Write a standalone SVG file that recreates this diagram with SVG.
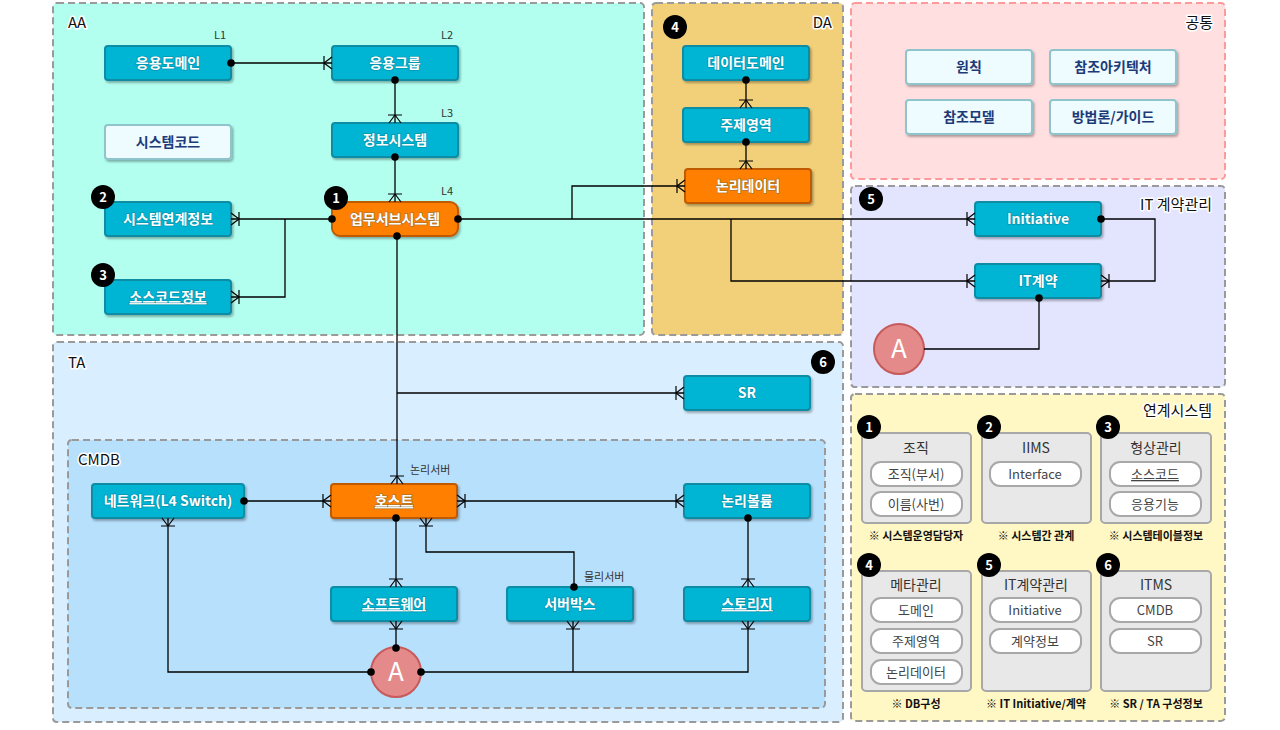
<svg xmlns="http://www.w3.org/2000/svg" width="1280" height="730" viewBox="0 0 1280 730">
<defs>
<style>
text{font-family:"Noto Sans CJK KR","Noto Sans",sans-serif}
.ctr{stroke:#9a9a9a;stroke-width:2;stroke-dasharray:7 4}
.ctitle{font-size:15px;fill:#111;stroke:#fff;stroke-width:3;paint-order:stroke;stroke-linejoin:round}
.node{fill:#00b4d4;stroke:#0a8ca3;stroke-width:2}
.onode{fill:#ff7f00;stroke:#c05a05;stroke-width:2}
.lnode{fill:#eefbff;stroke:#8fc4cc;stroke-width:2}
.nt{font-size:14px;font-weight:bold;fill:#fff;text-anchor:middle;stroke:#0a6070;stroke-width:1.5;paint-order:stroke;stroke-opacity:0.35}
.lt{font-size:14px;font-weight:bold;fill:#1c3a78;text-anchor:middle}
.lvl{font-size:11px;fill:#333}
.badge{fill:#000}
.bt{font-size:13px;font-weight:bold;fill:#fff;text-anchor:middle}
.conn{fill:none;stroke:#000;stroke-width:1.3}
.acirc{fill:#e58a8a;stroke:#c75a5a;stroke-width:2}
.at{font-size:26px;fill:#fff;text-anchor:middle}
.gbox{fill:#e8e8e8;stroke:#a8a8a8;stroke-width:2}
.pill{fill:#fff;stroke:#a8a8a8;stroke-width:2}
.gt{font-size:14px;fill:#333;text-anchor:middle}
.pt{font-size:13px;fill:#444;text-anchor:middle}
.cap{font-size:11px;fill:#111;text-anchor:middle;font-weight:bold}
</style>
<filter id="sh" x="-10%" y="-20%" width="125%" height="150%">
<feDropShadow dx="1.5" dy="2" stdDeviation="1.2" flood-color="#000" flood-opacity="0.3"/>
</filter>
<marker id="crow" viewBox="-10 -8 12 16" refX="0" refY="0" markerWidth="12" markerHeight="16" markerUnits="userSpaceOnUse" orient="auto">
<path d="M-8,-7 V7 M-8,0 L0,-6 M-8,0 L0,6" fill="none" stroke="#000" stroke-width="1.2"/>
</marker>
<marker id="crowS" viewBox="-2 -8 12 16" refX="0" refY="0" markerWidth="12" markerHeight="16" markerUnits="userSpaceOnUse" orient="auto">
<path d="M8,-7 V7 M8,0 L0,-6 M8,0 L0,6" fill="none" stroke="#000" stroke-width="1.2"/>
</marker>
<marker id="dot" viewBox="-5 -5 10 10" refX="0" refY="0" markerWidth="10" markerHeight="10" markerUnits="userSpaceOnUse">
<circle r="3.8" fill="#000"/>
</marker>
</defs>

<rect width="1280" height="730" fill="#fff"/>

<g id="containers">
<rect id="AA" class="ctr" x="53" y="3" width="591" height="332" rx="4" fill="#b2fff0"/>
<rect id="DA" class="ctr" x="652" y="3" width="191" height="332" rx="4" fill="#f2d07a"/>
<rect id="common" x="851" y="3" width="374" height="176" rx="4" fill="#ffdfe0" stroke="#ff9a9a" stroke-width="2" stroke-dasharray="7 4"/>
<rect id="ITc" class="ctr" x="851" y="186" width="374" height="201" rx="4" fill="#e3e5ff"/>
<rect id="TA" class="ctr" x="53" y="342" width="790" height="380" rx="4" fill="#d9efff"/>
<rect id="CMDB" class="ctr" x="68" y="440" width="757" height="268" rx="4" fill="#b7e0fc"/>
<rect id="LINK" class="ctr" x="851" y="394" width="374" height="327" rx="4" fill="#fff8c4"/>
<text class="ctitle" x="68" y="28">AA</text>
<text class="ctitle" x="832" y="28" text-anchor="end">DA</text>
<text class="ctitle" x="1213" y="28" text-anchor="end">공통</text>
<text class="ctitle" x="1212" y="210" text-anchor="end">IT 계약관리</text>
<text class="ctitle" x="68" y="368">TA</text>
<text class="ctitle" x="78" y="465">CMDB</text>
<text class="ctitle" x="1212" y="416" text-anchor="end">연계시스템</text>
</g>

<g id="n-appdomain"><rect class="node" x="105" y="46" width="126" height="34" rx="3" filter="url(#sh)"/><text class="nt" x="168" y="68">응용도메인</text><text class="lvl" x="214" y="39">L1</text></g>
<g id="n-appgroup"><rect class="node" x="332" y="46" width="126" height="34" rx="3" filter="url(#sh)"/><text class="nt" x="395" y="68">응용그룹</text><text class="lvl" x="441" y="39">L2</text></g>
<g id="n-syscode"><rect class="lnode" x="105" y="125" width="126" height="34" rx="3" filter="url(#sh)"/><text class="lt" x="168" y="147">시스템코드</text></g>
<g id="n-infosys"><rect class="node" x="332" y="123" width="126" height="34" rx="3" filter="url(#sh)"/><text class="nt" x="395" y="145">정보시스템</text><text class="lvl" x="441" y="117">L3</text></g>
<g id="n-syslink"><rect class="node" x="105" y="202" width="126" height="34" rx="3" filter="url(#sh)"/><text class="nt" x="168" y="224">시스템연계정보</text><circle class="badge" cx="103" cy="197" r="12"/><text class="bt" x="103" y="202">2</text></g>
<g id="n-bizsub"><rect class="onode" x="332" y="202" width="126" height="34" rx="8" filter="url(#sh)"/><text class="nt" x="395" y="224">업무서브시스템</text><text class="lvl" x="441" y="195">L4</text><circle class="badge" cx="336" cy="198" r="12"/><text class="bt" x="336" y="203">1</text></g>
<g id="n-srcinfo"><rect class="node" x="105" y="280" width="126" height="34" rx="3" filter="url(#sh)"/><text class="nt" x="168" y="302" text-decoration="underline">소스코드정보</text><circle class="badge" cx="103" cy="275" r="12"/><text class="bt" x="103" y="280">3</text></g>

<g id="n-datadomain"><rect class="node" x="683" y="46" width="126" height="34" rx="3" filter="url(#sh)"/><text class="nt" x="746" y="68">데이터도메인</text><circle class="badge" cx="675" cy="27" r="12"/><text class="bt" x="675" y="32">4</text></g>
<g id="n-subject"><rect class="node" x="683" y="108" width="126" height="34" rx="3" filter="url(#sh)"/><text class="nt" x="746" y="130">주제영역</text></g>
<g id="n-logicdata"><rect class="onode" x="685" y="169" width="126" height="34" rx="3" filter="url(#sh)"/><text class="nt" x="748" y="191">논리데이터</text></g>

<g id="n-principle"><rect class="lnode" x="906" y="50" width="126" height="34" rx="3" filter="url(#sh)"/><text class="lt" x="969" y="72">원칙</text></g>
<g id="n-refarch"><rect class="lnode" x="1050" y="50" width="126" height="34" rx="3" filter="url(#sh)"/><text class="lt" x="1113" y="72">참조아키텍처</text></g>
<g id="n-refmodel"><rect class="lnode" x="906" y="100" width="126" height="34" rx="3" filter="url(#sh)"/><text class="lt" x="969" y="122">참조모델</text></g>
<g id="n-method"><rect class="lnode" x="1050" y="100" width="126" height="34" rx="3" filter="url(#sh)"/><text class="lt" x="1113" y="122">방법론/가이드</text></g>

<g id="n-initiative"><rect class="node" x="975" y="202" width="126" height="34" rx="3" filter="url(#sh)"/><text class="nt" x="1038" y="224">Initiative</text><circle class="badge" cx="871" cy="199" r="12"/><text class="bt" x="871" y="204">5</text></g>
<g id="n-itcontract"><rect class="node" x="975" y="264" width="126" height="34" rx="3" filter="url(#sh)"/><text class="nt" x="1038" y="286">IT계약</text></g>
<g id="n-A1"><circle class="acirc" cx="899" cy="349" r="25"/><text class="at" x="899" y="358">A</text></g>

<g id="n-SR"><rect class="node" x="684" y="376" width="126" height="34" rx="3" filter="url(#sh)"/><text class="nt" x="747" y="398">SR</text><circle class="badge" cx="823" cy="362" r="12"/><text class="bt" x="823" y="367">6</text></g>

<g id="n-network"><rect class="node" x="92" y="484" width="152" height="34" rx="3" filter="url(#sh)"/><text class="nt" x="168" y="506">네트워크(L4 Switch)</text></g>
<g id="n-host"><rect class="onode" x="331" y="484" width="126" height="34" rx="3" filter="url(#sh)"/><text class="nt" x="394" y="506" text-decoration="underline">호스트</text><text class="lvl" x="410" y="474">논리서버</text></g>
<g id="n-lvol"><rect class="node" x="684" y="484" width="126" height="34" rx="3" filter="url(#sh)"/><text class="nt" x="747" y="506">논리볼륨</text></g>
<g id="n-software"><rect class="node" x="331" y="587" width="126" height="34" rx="3" filter="url(#sh)"/><text class="nt" x="394" y="609" text-decoration="underline">소프트웨어</text></g>
<g id="n-serverbox"><rect class="node" x="507" y="587" width="126" height="34" rx="3" filter="url(#sh)"/><text class="nt" x="570" y="609">서버박스</text><text class="lvl" x="584" y="581">물리서버</text></g>
<g id="n-storage"><rect class="node" x="684" y="587" width="126" height="34" rx="3" filter="url(#sh)"/><text class="nt" x="747" y="609" text-decoration="underline">스토리지</text></g>
<g id="n-A2"><circle class="acirc" cx="396" cy="672" r="25"/><text class="at" x="396" y="681">A</text></g>

<g id="ls-org"><rect class="gbox" x="862" y="433" width="109" height="90" rx="4"/><text class="gt" x="916" y="453">조직</text>
<rect class="pill" x="871" y="462" width="91" height="24" rx="10"/><text class="pt" x="916" y="479">조직(부서)</text>
<rect class="pill" x="871" y="492" width="91" height="24" rx="10"/><text class="pt" x="916" y="509">이름(사번)</text>
<circle class="badge" cx="869" cy="427" r="12"/><text class="bt" x="869" y="432">1</text>
<text class="cap" x="916" y="540">※ 시스템운영담당자</text></g>
<g id="ls-iims"><rect class="gbox" x="982" y="433" width="109" height="90" rx="4"/><text class="gt" x="1036" y="453">IIMS</text>
<rect class="pill" x="990" y="462" width="91" height="24" rx="10"/><text class="pt" x="1035" y="479">Interface</text>
<circle class="badge" cx="989" cy="427" r="12"/><text class="bt" x="989" y="432">2</text>
<text class="cap" x="1036" y="540">※ 시스템간 관계</text></g>
<g id="ls-cfg"><rect class="gbox" x="1101" y="433" width="110" height="90" rx="4"/><text class="gt" x="1156" y="453">형상관리</text>
<rect class="pill" x="1110" y="462" width="91" height="24" rx="10"/><text class="pt" x="1155" y="479" text-decoration="underline">소스코드</text>
<rect class="pill" x="1110" y="492" width="91" height="24" rx="10"/><text class="pt" x="1155" y="509">응용기능</text>
<circle class="badge" cx="1108" cy="427" r="12"/><text class="bt" x="1108" y="432">3</text>
<text class="cap" x="1156" y="540">※ 시스템테이블정보</text></g>
<g id="ls-meta"><rect class="gbox" x="862" y="571" width="109" height="120" rx="4"/><text class="gt" x="916" y="590">메타관리</text>
<rect class="pill" x="871" y="598" width="91" height="24" rx="10"/><text class="pt" x="916" y="615">도메인</text>
<rect class="pill" x="871" y="629" width="91" height="24" rx="10"/><text class="pt" x="916" y="646">주제영역</text>
<rect class="pill" x="871" y="660" width="91" height="24" rx="10"/><text class="pt" x="916" y="677">논리데이터</text>
<circle class="badge" cx="869" cy="565" r="12"/><text class="bt" x="869" y="570">4</text>
<text class="cap" x="916" y="708">※ DB구성</text></g>
<g id="ls-itc"><rect class="gbox" x="982" y="571" width="109" height="120" rx="4"/><text class="gt" x="1036" y="590">IT계약관리</text>
<rect class="pill" x="990" y="598" width="91" height="24" rx="10"/><text class="pt" x="1035" y="615">Initiative</text>
<rect class="pill" x="990" y="629" width="91" height="24" rx="10"/><text class="pt" x="1035" y="646">계약정보</text>
<circle class="badge" cx="989" cy="565" r="12"/><text class="bt" x="989" y="570">5</text>
<text class="cap" x="1036" y="708">※ IT Initiative/계약</text></g>
<g id="ls-itms"><rect class="gbox" x="1101" y="571" width="110" height="120" rx="4"/><text class="gt" x="1156" y="590">ITMS</text>
<rect class="pill" x="1110" y="598" width="91" height="24" rx="10"/><text class="pt" x="1155" y="615">CMDB</text>
<rect class="pill" x="1110" y="629" width="91" height="24" rx="10"/><text class="pt" x="1155" y="646">SR</text>
<circle class="badge" cx="1108" cy="565" r="12"/><text class="bt" x="1108" y="570">6</text>
<text class="cap" x="1156" y="708">※ SR / TA 구성정보</text></g>

<g id="connectors">
<path class="conn" d="M231,63 H332" marker-start="url(#dot)" marker-end="url(#crow)"/>
<path class="conn" d="M395,80 V123" marker-start="url(#dot)" marker-end="url(#crow)"/>
<path class="conn" d="M395,157 V202" marker-start="url(#dot)" marker-end="url(#crow)"/>
<path class="conn" d="M332,219 H231" marker-start="url(#dot)" marker-end="url(#crow)"/>
<path class="conn" d="M285,219 V297 H231" marker-end="url(#crow)"/>
<path class="conn" d="M458,219 H975" marker-start="url(#dot)" marker-end="url(#crow)"/>
<path class="conn" d="M572,219 V186 H685" marker-end="url(#crow)"/>
<path class="conn" d="M731,219 V281 H975" marker-end="url(#crow)"/>
<path class="conn" d="M1101,219 H1155 V281 H1101" marker-start="url(#dot)" marker-end="url(#crow)"/>
<path class="conn" d="M1039,298 V349 H924" marker-start="url(#dot)"/>
<path class="conn" d="M746,80 V108" marker-start="url(#dot)" marker-end="url(#crow)"/>
<path class="conn" d="M746,142 V169" marker-start="url(#dot)" marker-end="url(#crow)"/>
<path class="conn" d="M397,236 V484" marker-start="url(#dot)" marker-end="url(#crow)"/>
<path class="conn" d="M397,393 H684" marker-end="url(#crow)"/>
<path class="conn" d="M244,501 H331" marker-start="url(#dot)" marker-end="url(#crow)"/>
<path class="conn" d="M457,501 H684" marker-start="url(#crowS)" marker-end="url(#crow)"/>
<path class="conn" d="M396,518 V587" marker-start="url(#dot)" marker-end="url(#crow)"/>
<path class="conn" d="M574,587 V552 H426 V518" marker-start="url(#dot)" marker-end="url(#crow)"/>
<path class="conn" d="M748,518 V587" marker-start="url(#dot)" marker-end="url(#crow)"/>
<path class="conn" d="M396,648 V621" marker-start="url(#dot)" marker-end="url(#crow)"/>
<path class="conn" d="M371,672 H168 V518" marker-start="url(#dot)" marker-end="url(#crow)"/>
<path class="conn" d="M421,672 H748 V621" marker-start="url(#dot)" marker-end="url(#crow)"/>
<path class="conn" d="M573,672 V621" marker-end="url(#crow)"/>
</g>
</svg>
